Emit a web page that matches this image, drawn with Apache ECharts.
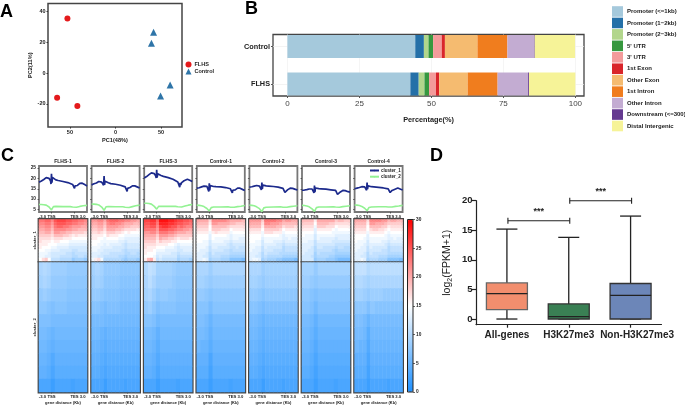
<!DOCTYPE html>
<html><head><meta charset="utf-8">
<script src="https://cdn.jsdelivr.net/npm/echarts@6/dist/echarts.min.js"></script>
<style>html,body{margin:0;padding:0;background:#fff}#c{width:685px;height:408px}</style>
</head><body><div id="c"></div>
<script>
// ---------- Panel A
const pcaFLHS = [[-52.7,35.5],[-64,-16],[-41.8,-21.3]];
const pcaControl = [[41.8,26.5],[39.5,19.4],[60,-7.7],[49.5,-14.8]];
const pcaXTicks = [-50,0,50];
const pcaYTicks = [-20,0,20,40];
// ---------- Panel B
const annoCategories = ['FLHS','Control'];
const annoNames = ['Promoter (<=1kb)','Promoter (1\u22122kb)','Promoter (2\u22123kb)',"5' UTR","3' UTR",'1st Exon','Other Exon','1st Intron','Other Intron','Downstream (<=300)','Distal Intergenic'];
const annoColors = ['#A5C9DC','#2470A8','#B2D68C','#36983F','#F39B9B','#D9252A','#F5BB70','#F07D1E','#C3ACD2','#653A90','#F6F398'];
const annoFLHS = [42.7,2.9,2.0,1.6,2.4,1.1,9.9,10.4,10.6,0.3,16.1];
const annoControl = [44.4,3.0,1.6,1.6,3.0,1.1,11.3,10.4,9.3,0.2,14.0];
// ---------- Panel C
const sampleNames = ['FLHS-1','FLHS-2','FLHS-3','Control-1','Control-2','Control-3','Control-4'];
const geneTickLabels = ['-3.0','TSS','TES','3.0'];
const geneTickPos = [7,26,74,91];
const c1X = [0,5,10,15,18,21,24,25,26,27,28,30,35,40,50,60,70,72,74,75,76,78,80,83,85,87,90,93,96,100];
const c2X = [0,5,10,15,18,21,24,26,28,30,35,50,65,70,74,78,85,92,100];
const c1FLHS1 = [18.2,18.8,19.5,20.4,21.2,20.0,18.9,17.3,22.2,18.0,20.5,19.6,19.3,19.0,18.5,18.0,17.1,16.6,15.2,16.4,15.8,16.3,16.6,16.9,17.6,16.9,17.7,17.2,16.9,16.4];
const c1FLHS2 = [16.9,17.4,17.8,18.5,19.4,18.2,17.4,16.7,21.1,16.9,18.6,18.3,17.9,17.5,17.2,16.7,15.9,15.4,13.7,15.2,14.5,15.1,15.6,15.9,16.4,15.7,16.4,16.0,15.8,15.4];
const c1FLHS3 = [20.2,20.9,21.8,22.7,23.4,22.3,21.2,20.2,24.2,20.4,22.3,21.8,21.4,21.0,20.4,19.6,18.3,17.7,15.8,17.9,16.9,18.0,18.6,18.9,19.5,18.8,19.6,19.2,19.0,18.5];
const c1Control1 = [15.3,15.5,15.9,16.3,16.9,16.2,15.6,13.7,17.7,14.2,16.5,16.3,16.1,16.0,15.9,15.6,15.0,14.7,13.0,14.3,13.6,14.2,14.5,14.7,15.3,14.8,15.3,15.0,14.6,14.2];
const c1Control2 = [15.8,16.0,16.3,16.6,16.9,16.3,15.8,14.5,18.0,15.0,16.8,16.6,16.4,16.3,16.1,15.8,15.2,14.8,13.3,14.0,13.7,14.2,14.6,14.7,15.3,14.7,15.2,15.0,14.7,14.4];
const c1Control3 = [14.3,14.4,14.6,14.9,15.3,14.9,14.5,13.0,16.6,13.4,15.4,15.3,15.1,15.0,14.8,14.5,14.2,13.9,12.3,13.0,12.6,13.1,13.5,13.6,14.2,13.6,14.1,13.8,13.6,13.4];
const c1Control4 = [15.0,15.3,15.6,16.0,16.3,15.9,15.4,14.3,18.0,14.8,16.4,16.0,16.0,15.9,15.7,15.4,15.0,14.6,13.2,14.1,13.6,14.2,14.5,14.7,15.5,14.9,15.4,15.1,14.8,14.5];
const c2FLHS1 = [7.4,7.4,7.3,7.1,6.7,6.2,5.6,4.8,5.6,6.4,6.5,6.4,6.4,6.2,5.8,6.1,6.5,6.8,7.0];
const c2FLHS2 = [7.6,7.6,7.5,7.2,6.8,6.2,5.5,4.6,5.5,6.3,6.4,6.3,6.3,6.1,5.6,6.0,6.4,6.8,7.1];
const c2FLHS3 = [8.0,8.0,7.9,7.6,7.1,6.5,5.9,5.2,5.8,6.5,6.6,6.5,6.5,6.3,5.9,6.2,6.7,7.1,7.4];
const c2Control1 = [7.1,7.0,6.8,6.4,6.0,5.5,5.0,4.3,5.0,5.9,6.2,6.2,6.3,6.1,5.8,6.1,6.4,6.6,6.9];
const c2Control2 = [7.1,7.0,6.8,6.3,5.9,5.4,4.8,4.0,4.8,5.8,6.1,6.2,6.3,6.1,5.9,6.1,6.4,6.6,6.8];
const c2Control3 = [7.0,6.9,6.7,6.3,5.9,5.3,4.8,4.1,4.9,5.9,6.2,6.2,6.3,6.2,5.9,6.1,6.4,6.6,6.8];
const c2Control4 = [7.2,7.1,6.9,6.5,6.1,5.6,5.0,4.4,5.2,6.0,6.2,6.3,6.3,6.2,6.0,6.2,6.5,6.7,7.0];
const clusterLines1 = [c1FLHS1,c1FLHS2,c1FLHS3,c1Control1,c1Control2,c1Control3,c1Control4];
const clusterLines2 = [c2FLHS1,c2FLHS2,c2FLHS3,c2Control1,c2Control2,c2Control3,c2Control4];

const heat1FLHS1 = [
[23,23,24,24,22,25,26,26,26,25,25,24,24,23,23,22],[22,22,23,23,21,24,25,25,25,24,24,23,23,22,22,21],[21,21,22,22,20,23,24,24,23,23,22,21,21,21,20,20],[20,20,21,21,19,22,22,22,22,21,21,20,20,19,19,19],
[19,19,20,20,18,21,21,20,20,19,19,18,18,18,18,17],[18,18,18,18,17,19,19,19,18,18,17,16,17,16,16,16],[17,17,17,17,16,17,17,17,16,16,16,15,15,15,15,15],[17,16,16,16,15,16,16,15,15,15,14,14,14,14,14,14],
[16,16,16,15,15,15,14,14,14,14,13,13,13,13,13,13],[16,15,15,15,14,14,13,13,13,13,12,12,12,12,12,12],[15,15,14,14,13,13,13,12,12,12,12,11,11,12,12,12],[14,14,14,13,12,12,12,12,12,11,11,10,11,11,11,11],
[14,14,13,13,12,12,12,11,11,11,11,10,10,11,11,10],[15,17,18,15,11,11,11,10,10,10,10,8,9,9,9,8]];
const heat1FLHS2 = [
[21,21,22,22,20,23,24,24,24,23,23,22,22,21,21,20],[20,20,21,21,19,22,23,23,22,22,21,20,20,20,19,19],[19,19,20,20,18,21,21,21,21,20,20,19,19,18,18,18],[18,18,19,19,17,20,20,20,19,19,18,17,17,17,17,16],
[17,17,18,17,16,18,18,18,17,17,16,15,16,15,15,15],[16,16,16,16,15,17,16,16,16,15,15,14,14,14,14,14],[16,16,15,15,14,15,15,15,15,14,14,13,13,13,13,13],[15,15,15,14,14,14,14,14,14,13,13,12,13,13,13,13],
[15,15,14,14,13,14,13,13,13,13,12,11,12,12,12,12],[14,14,14,13,13,13,13,12,12,12,12,11,12,12,12,12],[14,14,13,13,12,12,12,12,12,12,11,10,11,11,11,11],[13,13,13,12,12,12,11,11,11,11,11,10,10,11,11,10],
[13,13,12,12,11,11,11,11,11,10,10,9,10,10,10,10],[14,16,17,14,10,10,10,10,10,10,9,8,9,9,9,8]];
const heat1FLHS3 = [
[26,26,27,27,24,29,29,29,28,28,27,26,26,25,25,24],[25,25,26,26,23,28,28,28,27,27,26,25,25,24,24,23],[24,24,25,25,22,26,27,27,26,25,25,23,24,23,22,22],[23,23,23,23,21,25,25,25,24,24,23,22,22,21,21,20],
[21,21,22,22,20,23,23,23,22,22,21,20,20,20,19,19],[20,20,20,20,18,21,21,21,20,20,19,18,18,18,18,18],[19,19,19,19,17,20,19,19,18,18,17,16,17,17,17,16],[18,18,18,18,16,18,17,17,17,16,16,15,15,15,15,15],
[17,17,17,17,16,16,16,16,15,15,14,13,14,14,14,14],[17,16,16,16,15,15,15,14,14,14,13,12,13,13,13,13],[16,16,16,15,14,14,14,13,13,13,13,12,12,13,13,13],[16,15,15,15,13,13,13,13,13,12,12,11,12,12,12,12],
[15,15,15,14,12,13,12,12,12,12,12,10,11,11,11,11],[16,19,20,16,11,12,11,11,11,11,11,9,10,10,10,9]];
const heat1Control1 = [
[20,20,20,20,17,22,22,22,22,22,21,20,20,20,20,19],[19,19,19,19,16,21,21,20,20,20,20,19,19,18,18,18],[18,18,18,18,15,19,19,19,19,19,18,17,17,17,17,17],[17,17,17,17,15,18,18,18,17,17,17,15,16,16,16,16],
[16,16,16,16,14,16,17,16,16,16,16,14,15,15,15,15],[15,15,15,15,13,15,15,15,15,15,14,13,14,14,14,14],[15,15,15,15,13,15,14,14,14,14,14,13,14,14,13,13],[15,15,14,14,12,14,14,14,14,13,13,12,13,13,13,13],
[14,14,14,14,12,13,13,13,13,13,12,11,12,12,12,12],[14,14,14,13,11,13,13,12,12,12,12,11,11,12,11,11],[14,13,13,13,11,12,12,12,12,11,11,10,11,11,11,11],[13,13,13,12,10,12,11,11,11,11,11,10,10,10,10,10],
[13,13,12,12,10,11,11,11,10,10,10,9,9,9,9,9],[13,13,14,13,9,10,10,10,9,9,9,7,7,7,7,6]];
const heat1Control2 = [
[21,21,21,21,18,23,23,23,23,22,22,20,21,21,20,20],[20,20,20,20,17,22,22,21,21,21,20,19,19,19,19,19],[19,19,19,19,16,20,20,20,20,19,19,17,18,18,18,17],[17,17,17,17,15,18,18,18,18,18,17,15,16,16,16,16],
[16,16,16,16,14,17,17,17,16,16,16,14,15,15,15,15],[15,15,15,15,14,15,15,15,15,15,14,13,14,14,14,14],[15,15,15,15,13,14,14,14,14,14,14,13,13,14,13,13],[15,15,14,14,12,14,14,14,13,13,13,12,13,13,13,13],
[14,14,14,14,12,13,13,13,13,12,12,11,12,12,12,12],[14,14,13,13,11,13,12,12,12,12,12,10,11,11,11,11],[14,13,13,13,11,12,12,12,11,11,11,10,11,11,11,11],[13,13,13,12,10,12,11,11,11,11,10,10,10,10,10,10],
[13,13,12,12,10,11,10,10,10,10,10,9,9,9,9,9],[13,14,14,13,9,10,9,9,9,8,8,7,7,7,7,6]];
const heat1Control3 = [
[19,19,19,19,16,20,20,20,20,20,20,18,19,19,18,18],[18,18,18,18,15,19,19,19,19,18,18,17,17,17,17,17],[17,17,17,17,14,18,18,18,17,17,17,15,16,16,16,16],[16,16,16,16,13,16,16,16,16,16,15,14,15,15,15,15],
[15,15,15,15,13,15,15,15,15,15,14,14,14,14,14,14],[15,14,14,14,12,14,14,14,14,14,14,13,13,13,13,13],[14,14,14,14,12,14,13,13,13,13,13,12,13,13,13,13],[14,14,13,13,11,13,13,13,13,13,12,12,12,12,12,12],
[13,13,13,13,11,12,12,12,12,12,12,11,11,11,11,11],[13,13,13,12,10,12,12,11,11,11,11,10,11,11,10,10],[13,13,12,12,10,11,11,11,11,11,10,9,10,10,10,10],[13,12,12,12,9,11,10,10,10,10,10,9,9,9,9,9],
[12,12,12,11,9,10,10,10,10,9,9,8,8,8,8,8],[12,12,12,12,8,9,9,9,8,8,8,7,6,6,6,6]];
const heat1Control4 = [
[20,20,20,20,17,22,22,22,22,21,21,19,20,20,19,19],[19,19,19,19,16,21,21,20,20,20,19,18,18,18,18,18],[18,18,18,18,15,19,19,19,19,18,18,16,17,17,17,17],[17,17,17,17,15,17,18,18,17,17,16,15,16,16,16,16],
[16,16,16,16,14,16,16,16,16,16,15,14,15,15,15,15],[15,15,15,15,13,15,15,15,15,15,14,13,14,14,14,14],[15,15,15,14,13,14,14,14,14,14,14,13,13,14,13,13],[15,14,14,14,12,14,14,14,14,13,13,12,13,13,13,13],
[14,14,14,13,12,13,13,13,13,13,12,11,12,12,12,12],[14,14,13,13,11,13,12,12,12,12,12,10,11,11,11,11],[14,13,13,13,11,12,12,12,12,11,11,10,11,11,11,11],[13,13,13,12,10,12,11,11,11,11,11,10,10,10,10,10],
[13,13,12,12,10,11,11,11,10,10,10,9,9,9,9,9],[13,13,14,13,9,10,10,10,9,9,9,7,7,7,7,6]];

const heat2FLHS1 = [
[9.5,10,9.5,8.5,8.5,8.5,8.5,8,8,8,8,8],[9,9.5,9,8,8,8,8,7.5,7.5,7.5,7.5,7.5],[8,8.5,8,7.5,7.5,7.5,7.5,7,7,7,7,7],[7.5,7.5,7,6.5,7,7,7,6.5,6.5,6.5,6.5,6.5],[6.5,6.5,6.5,6,6,6,6,6,6,6,6,6],
[6,6,5.5,5,5.5,5.5,5.5,5.5,5.5,5.5,5.5,5.5],[5.5,5.5,5,4.5,5,5,5,5,5,5,5,5],[5,5,4.5,3.5,4.5,4.5,4.5,4.5,4.5,4.5,4.5,4.5],[4.5,4.5,4,3,4,4,4,4,4,4,4,4],[3,3,3,2,3,3,3,3,2.5,3,3,3]];
const heat2FLHS2 = [
[9,9.5,9,8,8,8,8,7.5,7.5,7.5,7.5,7.5],[8.5,9,8.5,7.5,7.5,7.5,7.5,7,7,7,7,7],[8,8,7.5,7,7,7,7,6.5,6.5,6.5,6.5,6.5],[7,7,6.5,6,6.5,6.5,6.5,6,6,6,6,6],[6,6,6,5.5,5.5,5.5,5.5,5.5,5.5,5.5,5.5,5.5],
[5.5,5.5,5,4.5,5,5,5,5,5,5,5,5],[5,5,4.5,4,4.5,4.5,4.5,4.5,4.5,4.5,4.5,4.5],[4.5,4.5,4,3.5,4,4,4,4,4,4,4,4],[4,4,3.5,3,3.5,3.5,3.5,3.5,3.5,3.5,3.5,3.5],[3,3,3,2,3,3,3,3,2.5,3,3,3]];
const heat2FLHS3 = [
[10,11,10.5,9,9,9,9,8.5,8,8,8,8],[9.5,10.5,9.5,8.5,8.5,8.5,8.5,8,7.5,7.5,7.5,7.5],[9,9.5,8.5,7.5,8,8,7.5,7.5,7,7,7,7],[8,8.5,7.5,6.5,7,7,7,7,6.5,6.5,6.5,6.5],[7,7,6.5,5.5,6,6,6,6,6,6,6,6],
[6,6,5.5,4.5,5.5,5.5,5.5,5.5,5.5,5.5,5.5,5.5],[5.5,5.5,5,4,5,5,5,5,5,5,5,5],[5,5,4.5,3.5,4.5,4.5,4.5,4.5,4.5,4.5,4.5,4.5],[4.5,4.5,4,3,4,4,4,4,4,4,4,4],[3,3,3,2,3,3,3,3,2.5,3,3,3]];
const heat2Control1 = [
[9.5,9.5,9.5,8.5,9.5,9.5,9.5,9.5,9.5,9.5,9.5,9.5],[9,9,8.5,8,8.5,8.5,8.5,8.5,8.5,8.5,8.5,8.5],[8,8,7.5,7,7.5,7.5,7.5,7.5,7.5,7.5,7.5,7.5],[7,7,7,6,7,7,7,7,7,7,7,7],[6.5,6.5,6,5,6,6,6,6,6,6,6,6],
[6,6,5.5,4.5,5.5,5.5,5.5,5.5,5.5,5.5,5.5,5.5],[5.5,5,5,4,5,5,5,5,5,5,5,5],[4.5,4.5,4.5,3,4.5,4.5,4.5,4.5,4.5,4.5,4.5,4.5],[4,4,4,2.5,4,4,4,4,4,4,4,4],[3,3,3,2,3,3,3,3,2.5,3,3,3]];
const heat2Control2 = [
[9.5,9.5,9.5,8.5,9,9,9,9,9,9,9,9],[9,9,8.5,8,8.5,8.5,8.5,8.5,8.5,8.5,8.5,8.5],[8,8,7.5,7,7.5,7.5,7.5,7.5,7.5,7.5,7.5,7.5],[7,7,6.5,6,6.5,6.5,6.5,6.5,6.5,6.5,6.5,6.5],[6,6,5.5,5,5.5,5.5,5.5,5.5,5.5,5.5,5.5,5.5],
[5.5,5.5,5,4.5,5,5,5,5,5,5,5,5],[5,5,4.5,4,4.5,4.5,4.5,4.5,4.5,4.5,4.5,4.5],[4.5,4.5,4,3.5,4,4,4,4,4,4,4,4],[4,4,3.5,3,3.5,3.5,3.5,3.5,3.5,3.5,3.5,3.5],[3,3,3,2,3,3,3,3,2.5,3,3,3]];
const heat2Control3 = [
[9,9,9,8,9,9,9,9,9,9,9,9],[8.5,8.5,8,7.5,8,8,8,8,8,8,8,8],[7.5,7.5,7,6.5,7,7,7,7,7,7,7,7],[7,7,6.5,5.5,6.5,6.5,6.5,6.5,6.5,6.5,6.5,6.5],[6,6,5.5,4.5,5.5,5.5,5.5,5.5,5.5,5.5,5.5,5.5],
[5.5,5.5,5,4,5,5,5,5,5,5,5,5],[5,5,4.5,3.5,4.5,4.5,4.5,4.5,4.5,4.5,4.5,4.5],[4.5,4.5,4,3,4,4,4,4,4,4,4,4],[4,4,3.5,2.5,3.5,3.5,3.5,3.5,3.5,3.5,3.5,3.5],[3,3,3,2,3,3,3,3,2.5,3,3,3]];
const heat2Control4 = [
[11,11,11,10,10.5,10.5,10.5,10.5,10.5,10.5,10.5,10.5],[10,10,9.5,9,9.5,9.5,9.5,9.5,9.5,9.5,9.5,9.5],[9,9,8.5,8,8.5,8.5,8.5,8,8,8,8,8],[7.5,7.5,7.5,6.5,7.5,7,7,7,7,7,7,7],[6.5,6.5,6,5,6,6,6,6,6,6,6,6],
[6,6,5.5,4,5.5,5.5,5.5,5.5,5.5,5.5,5.5,5.5],[5.5,5,5,3.5,5,5,5,5,5,5,5,5],[4.5,4.5,4.5,3,4.5,4.5,4.5,4.5,4.5,4.5,4.5,4.5],[4,4,4,2.5,4,4,4,4,4,4,4,4],[3,3,3,2,3,3,3,3,2.5,3,3,3]];
const heat1All = [heat1FLHS1,heat1FLHS2,heat1FLHS3,heat1Control1,heat1Control2,heat1Control3,heat1Control4];
const heat2All = [heat2FLHS1,heat2FLHS2,heat2FLHS3,heat2Control1,heat2Control2,heat2Control3,heat2Control4];
// ---------- Panel D
const boxCategories = ['All-genes','H3K27me3','Non-H3K27me3'];
const boxStats = [[0,0,1.6,4.3,6.1,15.2],[1,0,0,0.4,2.55,13.8],[2,0,0,4.0,6.0,17.4]];
const boxColors = ['#F28E6E','#3A8054','#6C86B8'];
const brackets = [[0,1,16.6,'***'],[1,2,20,'***']];

const FF = 'Liberation Sans, Arial, sans-serif';
const grids=[], xAxes=[], yAxes=[], series=[], titles=[];
function addAxes(g,x,y){ grids.push(g); const gi=grids.length-1; x.gridIndex=gi; y.gridIndex=gi; xAxes.push(x); yAxes.push(y); return [xAxes.length-1,yAxes.length-1]; }
const noAxisBits={axisLine:{show:false},axisTick:{show:false},axisLabel:{show:false},splitLine:{show:false}};
const txt=(s,w)=>({fontFamily:FF,fontSize:s,fontWeight:w||'bold',color:'#222'});

// Panel letters
[['A',0,3],['B',245,0],['C',1,147],['D',430,147]].forEach(t=>titles.push({text:t[0],left:t[1],top:t[2],padding:0,textStyle:{fontFamily:FF,fontSize:18,fontWeight:'bold',color:'#000'}}));

// A
{
 const [xi,yi]=addAxes({left:48,top:3.5,width:134,height:123.5,show:true,borderColor:'#444',borderWidth:1.5,backgroundColor:'#fff'},
  {type:'value',min:-74,max:73,name:'PC1(48%)',nameLocation:'middle',nameGap:10,nameTextStyle:txt(5.6),splitLine:{show:false},axisLine:{show:false,onZero:false},
   axisTick:{show:true,length:1.5,customValues:pcaXTicks,lineStyle:{color:'#333'}},axisLabel:{customValues:pcaXTicks,margin:2.5,formatter:v=>String(Math.abs(v)),...txt(5.5)}},
  {type:'value',min:-35,max:45.2,name:'PC2(11%)',nameLocation:'middle',nameGap:11,nameTextStyle:txt(5.6),splitLine:{show:false},axisLine:{show:false,onZero:false},
   axisTick:{show:true,length:1.5,customValues:pcaYTicks,lineStyle:{color:'#333'}},axisLabel:{customValues:pcaYTicks,margin:2.5,...txt(5.5)}});
 series.push({type:'scatter',name:'FLHS',xAxisIndex:xi,yAxisIndex:yi,data:pcaFLHS,symbol:'circle',symbolSize:6,itemStyle:{color:'#E41A1C',opacity:1},silent:true});
 series.push({type:'scatter',name:'Control',xAxisIndex:xi,yAxisIndex:yi,data:pcaControl,symbol:'triangle',symbolSize:7,itemStyle:{color:'#2F75A8',opacity:1},silent:true});
}
// B frame + axis
{
 addAxes({left:273,top:34.5,width:311,height:61.5,show:true,borderColor:'#444',borderWidth:1.3,backgroundColor:'#fff'},
  {type:'value',min:-5,max:103,name:'Percentage(%)',nameLocation:'middle',nameGap:20,nameTextStyle:txt(7.3),
   axisLine:{show:false,onZero:false},axisTick:{show:true,length:2,customValues:[0,25,50,75,100],lineStyle:{color:'#555'}},
   axisLabel:{customValues:[0,25,50,75,100],margin:4,fontFamily:FF,fontSize:8,color:'#444'},splitLine:{show:true,lineStyle:{color:'#f0f0f0',width:0.7}}},
  {type:'value',min:0,max:1,...noAxisBits});
 const [xi,yi]=addAxes({left:273,top:27.75,width:311,height:75},
  {type:'value',min:-5,max:103,show:false},
  {type:'category',data:annoCategories,axisLine:{show:false,onZero:false},axisTick:{show:true,alignWithLabel:true,length:2,lineStyle:{color:'#555'}},
   splitLine:{show:true,alignWithLabel:true,lineStyle:{color:'#eeeeee',width:0.7}},axisLabel:{margin:3,...txt(7.3)}});
 annoNames.forEach((n,i)=>series.push({type:'bar',name:n,stack:'anno',xAxisIndex:xi,yAxisIndex:yi,barWidth:23,silent:true,
   itemStyle:{color:annoColors[i]},data:[annoFLHS[i],annoControl[i]]}));
}
// C
const panelLeft=[39,91.6,144.2,196.8,249.4,302,354.6];
const heatSeries=[];
sampleNames.forEach((name,i)=>{
 const L=panelLeft[i], W=48;
 titles.push({text:name,left:L+W/2,top:159.3,padding:0,textAlign:'center',textStyle:txt(5)});
 const geneAxis=(extra)=>({type:'value',min:0,max:100,splitLine:{show:false},axisLine:{show:false,onZero:false},
   axisTick:{show:true,length:1.5,customValues:[26,74],lineStyle:{color:'#333',width:0.7}},
   axisLabel:{customValues:geneTickPos,margin:2.5,showMinLabel:true,showMaxLabel:true,formatter:v=>geneTickLabels[geneTickPos.indexOf(v)],...txt(4.2)},...extra});
 const [xi,yi]=addAxes({left:L,top:166,width:W,height:46,show:true,borderColor:'#777',borderWidth:1.8,backgroundColor:'#fff'},
   geneAxis({}),
   {type:'value',min:3.8,max:26,splitLine:{show:false},axisLine:{show:false,onZero:false},
    axisTick:{show:true,length:1.5,customValues:[5,10,15,20,25],lineStyle:{color:'#333',width:0.7}},
    axisLabel:{show:i===0,customValues:[5,10,15,20,25],margin:3,...txt(4.8)}});
 series.push({type:'line',name:'cluster_1',xAxisIndex:xi,yAxisIndex:yi,symbol:'none',silent:true,lineStyle:{color:'#1C2A8C',width:1.7},itemStyle:{color:'#1C2A8C'},
   data:c1X.map((x,j)=>[x,clusterLines1[i][j]])});
 series.push({type:'line',name:'cluster_2',xAxisIndex:xi,yAxisIndex:yi,symbol:'none',silent:true,lineStyle:{color:'#93F293',width:1.6},itemStyle:{color:'#93F293'},
   data:c2X.map((x,j)=>[x,clusterLines2[i][j]])});
 [[heat1All[i],219.5,41.5,'cluster_1'],[heat2All[i],262.5,129.5,'cluster_2']].forEach(([m,top,h,cname],k)=>{
  const [hx,hy]=addAxes({left:L,top:top,width:W,height:h,show:true,borderColor:'#444',borderWidth:2.8},
   {type:'category',data:m[0].map((_,c)=>c),show:false},
   {type:'category',inverse:true,data:m.map((_,r)=>r),axisLine:{show:false},axisTick:{show:false},axisLabel:{show:false},splitLine:{show:false},
    name:i===0?cname:'',nameLocation:'middle',nameGap:2.5,nameRotate:90,nameTextStyle:txt(4.2)});
  const data=[]; m.forEach((row,r)=>row.forEach((v,c)=>data.push([c,r,v])));
  series.push({type:'heatmap',xAxisIndex:hx,yAxisIndex:hy,data:data,silent:true,progressive:0,emphasis:{disabled:true}});
  heatSeries.push(series.length-1);
  if(k===1){
   xAxes.push({gridIndex:grids.length-1,position:'bottom',...geneAxis({name:'gene distance (Kb)',nameLocation:'middle',nameGap:8.5,nameTextStyle:txt(4)})});
  }
 });
});
// colorbar axis
addAxes({left:407.5,top:219.5,width:5.5,height:172.5,show:true,borderColor:'#222',borderWidth:1,z:10},
 {type:'value',min:0,max:1,...noAxisBits},
 {type:'value',min:0,max:30,interval:5,position:'right',splitLine:{show:false},axisLine:{show:false,onZero:false},
  axisTick:{show:true,length:2,lineStyle:{color:'#222',width:0.7}},axisLabel:{margin:3,...txt(4.8)}});
// D
{
 const [xi,yi]=addAxes({left:476,top:200.7,width:185.5,height:124},
  {type:'category',data:boxCategories,axisLine:{show:true,onZero:false,lineStyle:{color:'#222',width:1.2}},axisTick:{show:true,alignWithLabel:true,length:3,lineStyle:{color:'#222',width:1.2}},
   axisLabel:{interval:0,margin:5.5,hideOverlap:false,...txt(10),
     formatter:v=>v===boxCategories[2]?'{s|'+v+'}':v,rich:{s:{...txt(10),padding:[0,0,0,13]}}}},
  {type:'value',min:-0.96,max:20,splitLine:{show:false},axisLine:{show:true,onZero:false,lineStyle:{color:'#222',width:1.2}},
   axisTick:{show:true,length:4.5,customValues:[0,5,10,15,20],lineStyle:{color:'#222',width:1.2}},
   axisLabel:{customValues:[0,5,10,15,20],margin:3.5,...txt(9.5)},
   name:'{a|log}{b|2}{a|(FPKM+1)}',nameLocation:'middle',nameGap:22,nameTextStyle:{rich:{a:{fontFamily:FF,fontSize:10.5,color:'#222'},b:{fontFamily:FF,fontSize:7,color:'#222',verticalAlign:'bottom',padding:[6,0,0,0]}}}});
 series.push({type:'custom',xAxisIndex:xi,yAxisIndex:yi,silent:true,data:boxStats,encode:{x:0,y:[1,2,3,4,5]},
  renderItem:(p,api)=>{
   const c=api.value(0), pt=v=>api.coord([c,v]); const x=pt(0)[0];
   const yMin=pt(api.value(1))[1],q1=pt(api.value(2))[1],med=pt(api.value(3))[1],q3=pt(api.value(4))[1],yMax=pt(api.value(5))[1];
   const bw=41,cap=21,ls={stroke:'#222',lineWidth:1.3,fill:null};
   const line=(a,b,d,e)=>({type:'line',shape:{x1:a,y1:b,x2:d,y2:e},style:ls});
   return {type:'group',children:[
    line(x,yMax,x,yMin),line(x-cap/2,yMax,x+cap/2,yMax),line(x-cap/2,yMin,x+cap/2,yMin),
    {type:'rect',shape:{x:x-bw/2,y:q3,width:bw,height:q1-q3},style:{fill:boxColors[c],stroke:c===0?'#666':'#333',lineWidth:1.3}},
    line(x-bw/2,med,x+bw/2,med)]};
  }});
 series.push({type:'custom',xAxisIndex:xi,yAxisIndex:yi,silent:true,data:brackets,encode:{x:[0,1],y:2},
  renderItem:(p,api)=>{
   const a=api.coord([api.value(0),api.value(2)]),b=api.coord([api.value(1),api.value(2)]);
   const ls={stroke:'#222',lineWidth:1.1,fill:null};const h=3;
   const x1=a[0]+1,x2=b[0]+1,y=a[1];
   return {type:'group',children:[
    {type:'line',shape:{x1:x1,y1:y,x2:x2,y2:y},style:ls},
    {type:'line',shape:{x1:x1,y1:y-h,x2:x1,y2:y+h},style:ls},
    {type:'line',shape:{x1:x2,y1:y-h,x2:x2,y2:y+h},style:ls},
    {type:'text',style:{text:brackets[p.dataIndex][3],x:(x1+x2)/2,y:y-9,align:'center',verticalAlign:'middle',fontFamily:FF,fontSize:9,fontWeight:'bold',fill:'#222'}}]};
  }});
}

const option={
 animation:false,backgroundColor:'#fff',textStyle:{fontFamily:FF},
 title:titles,grid:grids,xAxis:xAxes,yAxis:yAxes,series:series,
 legend:[
  {data:['FLHS','Control'],left:185.5,top:61.5,orient:'vertical',itemWidth:6,itemHeight:6,itemGap:1,padding:0,selectedMode:false,textStyle:{...txt(5.5),padding:[0,0,0,-2]}},
  {data:annoNames,left:612,top:6.2,orient:'vertical',icon:'rect',itemWidth:11,itemHeight:10.6,itemGap:0.85,padding:0,selectedMode:false,textStyle:{...txt(6),padding:[0,0,0,-1]}},
  {data:['cluster_1','cluster_2'],left:369,top:168,orient:'vertical',itemWidth:9,itemHeight:2,itemGap:1.2,padding:0,selectedMode:false,textStyle:{...txt(4.5),padding:[0,0,0,-3]}}
 ],
 visualMap:{type:'continuous',seriesIndex:heatSeries,min:0,max:30,left:407.5,top:219.5,itemWidth:5.5,itemHeight:172.5,padding:0,calculable:false,hoverLink:false,
   inRange:{color:['#1E90FF','#FFFFFF','#FF0000']}}
};
const chart=echarts.init(document.getElementById('c'),null,{renderer:'canvas'});
chart.setOption(option);
</script></body></html>
